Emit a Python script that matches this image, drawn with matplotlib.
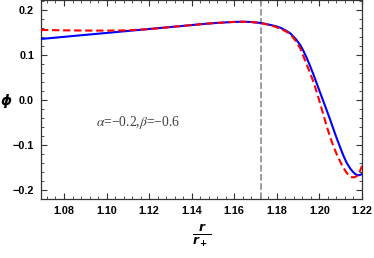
import matplotlib
matplotlib.use("Agg")
import matplotlib.pyplot as plt
from matplotlib.ticker import MultipleLocator, FuncFormatter

# ---- data ----
x_blue = [1.0692, 1.08, 1.09, 1.10, 1.11, 1.12, 1.13, 1.14, 1.149, 1.155, 1.160, 1.164,
          1.168, 1.1727, 1.1770, 1.1795, 1.1816, 1.1840, 1.1863, 1.1887, 1.1910, 1.1925,
          1.1941, 1.1957, 1.1972, 1.1986, 1.2000, 1.2019, 1.2035, 1.2051, 1.2066, 1.2082,
          1.2098, 1.2113, 1.2128, 1.2144, 1.2156, 1.2168, 1.2176, 1.2185, 1.2193, 1.2200]
y_blue = [0.1356, 0.1403, 0.1447, 0.1490, 0.1534, 0.1578, 0.1621, 0.1665, 0.1704, 0.1722,
          0.1735, 0.1739, 0.1733, 0.1710, 0.1667, 0.1640, 0.1607, 0.1550, 0.1482, 0.1365,
          0.1222, 0.1090, 0.0927, 0.0745, 0.0565, 0.0385, 0.0205, -0.0035, -0.0240, -0.0445,
          -0.0650, -0.0860, -0.1060, -0.1240, -0.1395, -0.1518, -0.1590, -0.1644, -0.1665,
          -0.1672, -0.1662, -0.1640]

x_red = [1.0692, 1.075, 1.08, 1.09, 1.10, 1.11, 1.12, 1.13, 1.14, 1.149, 1.155, 1.160,
         1.164, 1.168, 1.1727, 1.1770, 1.1795, 1.1816, 1.1840, 1.1863, 1.1887, 1.1910,
         1.1925, 1.1941, 1.1957, 1.1972, 1.1985, 1.1996, 1.2004, 1.2020, 1.2035, 1.2050,
         1.2066, 1.2082, 1.2098, 1.2113, 1.2129, 1.2141, 1.2152, 1.2164, 1.2176, 1.2188,
         1.2200]
y_red = [0.1556, 0.1552, 0.1548, 0.1543, 0.1542, 0.1548, 0.1575, 0.1621, 0.1665, 0.1704,
         0.1722, 0.1735, 0.1739, 0.1733, 0.1708, 0.1660, 0.1625, 0.1580, 0.1530, 0.1467,
         0.1320, 0.1149, 0.0970, 0.0778, 0.0590, 0.0400, 0.0210, 0.0040, -0.0090, -0.0350,
         -0.0593, -0.0820, -0.1030, -0.1215, -0.1371, -0.1510, -0.1625, -0.1688, -0.1716,
         -0.1718, -0.1689, -0.1610, -0.1467]

x_vline = 1.1727
annotation = r"$\alpha$=−0.2,$\beta$=−0.6"

plt.rcParams['mathtext.fontset'] = 'custom'
plt.rcParams['mathtext.it'] = 'DejaVu Sans:italic:bold'
plt.rcParams['mathtext.rm'] = 'DejaVu Sans:bold'
plt.rcParams['mathtext.bf'] = 'DejaVu Sans:bold'

fig = plt.figure(figsize=(3.74, 2.58), dpi=100)
ax = fig.add_axes([41/374, 1 - 199/258, (362 - 41)/374, 199/258])

ax.plot(x_blue, y_blue, color='#0000ff', lw=1.5, zorder=3, solid_joinstyle='round')
ax.plot(x_red, y_red, color='#ff0000', lw=1.5, dashes=(3.5, 1.8), zorder=4)
ax.axvline(x_vline, color='#8c8c8c', lw=1.2, dashes=(4, 1.5), zorder=2)

ax.set_xlim(1.0692, 1.2200)
ax.set_ylim(-0.22, 0.2222)

ax.xaxis.set_major_locator(MultipleLocator(0.02))
ax.xaxis.set_minor_locator(MultipleLocator(0.004))
ax.yaxis.set_major_locator(MultipleLocator(0.1))
ax.yaxis.set_minor_locator(MultipleLocator(0.02))
ax.xaxis.set_major_formatter(FuncFormatter(lambda v, p: f"{v:.2f}".replace('-', '−')))
ax.yaxis.set_major_formatter(FuncFormatter(
    lambda v, p: ("0.0" if abs(v) < 1e-9 else f"{v:.1f}".replace('-', '−'))))

ax.tick_params(which='both', direction='in', top=True, right=True, color='#333333')
ax.tick_params(which='major', length=4, width=0.8, pad=5)
ax.tick_params(which='minor', length=2, width=0.6)
for lab in ax.get_xticklabels() + ax.get_yticklabels():
    lab.set_fontfamily('Liberation Sans')
    lab.set_fontweight('bold')
    lab.set_fontsize(7.8)
for sp in ax.spines.values():
    sp.set_color('#333333')
    sp.set_linewidth(0.9)

ax.text(1.1147, -0.051, annotation, family='Liberation Serif', fontsize=9.8,
        color='#404040', ha='center', va='center', math_fontfamily='stix')

fig.text(6/374, 1 - 101/258, 'ϕ', family='DejaVu Sans', fontweight='bold',
         fontstyle='italic', fontsize=10, ha='center', va='center')
fig.text(202/374, 1 - 236/258, r'$\frac{r}{r_+}$', fontsize=12.5,
         ha='center', va='center', math_fontfamily='custom')

fig.savefig('out.png', dpi=100)
